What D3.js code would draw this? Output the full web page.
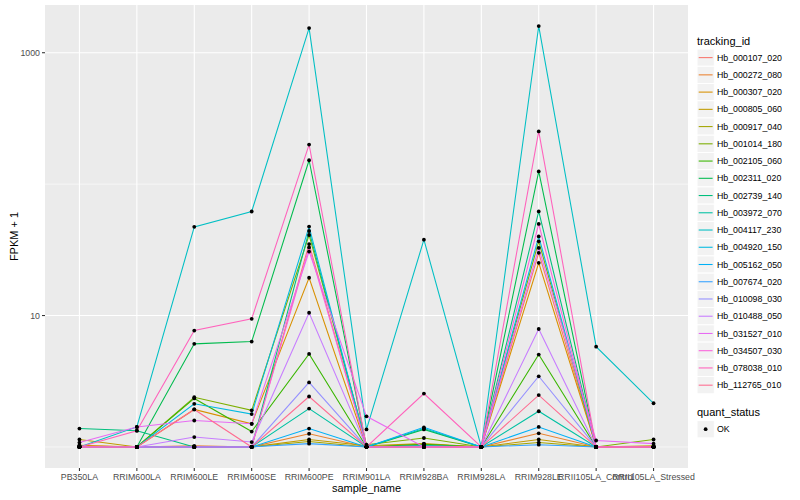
<!DOCTYPE html>
<html>
<head>
<meta charset="utf-8">
<script src="https://cdn.jsdelivr.net/npm/d3@7"></script>
<style>
body{margin:0;background:#fff;}
text{font-family:"Liberation Sans",Arial,Helvetica,sans-serif;}
</style>
</head>
<body>
<svg id="chart" width="800" height="500"></svg>
<script>

// samples along the x axis
var samples = ["PB350LA","RRIM600LA","RRIM600LE","RRIM600SE","RRIM600PE","RRIM901LA",
	"RRIM928BA","RRIM928LA","RRIM928LE","RRII105LA_Control","RRII105LA_Stressed"];

var trackingIds = ["Hb_000107_020","Hb_000272_080","Hb_000307_020","Hb_000805_060","Hb_000917_040",
	"Hb_001014_180","Hb_002105_060","Hb_002311_020","Hb_002739_140","Hb_003972_070",
	"Hb_004117_230","Hb_004920_150","Hb_005162_050","Hb_007674_020","Hb_010098_030",
	"Hb_010488_050","Hb_031527_010","Hb_034507_030","Hb_078038_010","Hb_112765_010"];

// ggplot hue palette for 20 groups
var colors = ["#F8766D","#EA8331","#D89000","#C09B00","#A3A500","#7CAE00","#39B600","#00BB4E",
	"#00BF7D","#00C1A3","#00BFC4","#00BAE0","#00B0F6","#35A2FF","#9590FF","#C77CFF",
	"#E76BF3","#FA62DB","#FF62BC","#FF6C91"];

// FPKM + 1, one row per tracking_id, one column per sample
var fpkm = [
	[1.02, 1.00, 1.00, 1.00,   35, 1.00, 1.02, 1.00,   30, 1.00, 1.00], // Hb_000107_020
	[1.00, 1.00, 1.02, 1.00, 1.26, 1.00, 1.03, 1.00, 1.27, 1.00, 1.00], // Hb_000272_080
	[1.03, 1.00, 1.93, 1.50, 19.4, 1.00, 1.05, 1.00, 25.2, 1.00, 1.00], // Hb_000307_020
	[1.14, 1.00, 1.00, 1.00, 1.14, 1.02, 1.06, 1.00, 1.14, 1.00, 1.02], // Hb_000805_060
	[1.00, 1.00, 1.00, 1.00, 1.10, 1.00, 1.00, 1.00, 1.08, 1.00, 1.00], // Hb_000917_040
	[1.00, 1.00, 2.39, 1.90,   41, 1.04, 1.17, 1.00, 36.7, 1.00, 1.14], // Hb_001014_180
	[1.00, 1.00, 2.34, 1.31,  5.1, 1.00, 1.05, 1.00, 5.05, 1.00, 1.00], // Hb_002105_060
	[1.00, 1.00, 6.09, 6.34,  152, 1.00, 1.36, 1.00,  125, 1.00, 1.00], // Hb_002311_020
	[1.38, 1.33, 1.00, 1.00,   44, 1.00, 1.02, 1.00,   62, 1.00, 1.00], // Hb_002739_140
	[1.00, 1.00, 1.00, 1.00, 1.96, 1.00, 1.38, 1.00, 1.87, 1.00, 1.00], // Hb_003972_070
	[1.00, 1.42, 47.3, 61.9, 1540, 1.36, 37.8, 1.00, 1596, 5.80, 2.15], // Hb_004117_230
	[1.00, 1.00, 2.13, 1.78, 47.5, 1.00, 1.02, 1.00,   40, 1.00, 1.00], // Hb_004920_150
	[1.00, 1.00, 1.00, 1.00, 1.38, 1.00, 1.41, 1.00, 1.42, 1.00, 1.00], // Hb_005162_050
	[1.00, 1.00, 1.00, 1.00, 1.06, 1.00, 1.00, 1.00, 1.04, 1.00, 1.00], // Hb_007674_020
	[1.00, 1.00, 1.00, 1.00, 3.10, 1.00, 1.00, 1.00, 3.45, 1.00, 1.00], // Hb_010098_030
	[1.00, 1.00, 1.19, 1.09, 10.5, 1.00, 1.00, 1.00, 7.90, 1.00, 1.00], // Hb_010488_050
	[1.08, 1.42, 1.59, 1.50, 30.7, 1.71, 1.00, 1.00, 32.7, 1.12, 1.06], // Hb_031527_010
	[1.00, 1.00, 1.00, 1.00,   33, 1.00, 1.00, 1.00, 49.8, 1.00, 1.00], // Hb_034507_030
	[1.00, 1.33, 7.69, 9.44,  200, 1.00, 2.55, 1.00,  252, 1.00, 1.00], // Hb_078038_010
	[1.00, 1.00, 1.93, 1.00, 2.42, 1.00, 1.00, 1.00, 2.48, 1.00, 1.00]  // Hb_112765_010
];

var yMajor = [10, 1000];
var yMinor = [1, 100];
var quantStatus = ["OK"];

var svg = d3.select("#chart");
var panel = {left:45, right:688, top:5, bottom:468};

var x = d3.scalePoint().domain(samples).range([panel.left, panel.right]).padding(0.6);

// log scale with ggplot's 5% expansion done in log space
var all = d3.merge(fpkm);
var lo = Math.log10(d3.min(all)), hi = Math.log10(d3.max(all));
var pad = (hi - lo) * 0.05;
var y = d3.scaleLog()
	.domain([Math.pow(10, lo - pad), Math.pow(10, hi + pad)])
	.range([panel.bottom, panel.top]);

svg.append("rect")
	.attr("x", panel.left).attr("y", panel.top)
	.attr("width", panel.right - panel.left).attr("height", panel.bottom - panel.top)
	.attr("fill", "#EBEBEB");

var grid = svg.append("g").attr("stroke", "#fff").attr("fill", "none");
grid.selectAll(".minor").data(yMinor).enter().append("line")
	.attr("x1", panel.left).attr("x2", panel.right)
	.attr("y1", function(d){return y(d)}).attr("y2", function(d){return y(d)})
	.attr("stroke-width", 0.55);
grid.selectAll(".major").data(yMajor).enter().append("line")
	.attr("x1", panel.left).attr("x2", panel.right)
	.attr("y1", function(d){return y(d)}).attr("y2", function(d){return y(d)})
	.attr("stroke-width", 1.1);
grid.selectAll(".xg").data(samples).enter().append("line")
	.attr("x1", function(d){return x(d)}).attr("x2", function(d){return x(d)})
	.attr("y1", panel.top).attr("y2", panel.bottom)
	.attr("stroke-width", 1.1);

// series lines
var line = d3.line()
	.x(function(d,i){return x(samples[i])})
	.y(function(d){return y(d)});

svg.append("g").selectAll("path").data(fpkm).enter().append("path")
	.attr("d", line)
	.attr("fill", "none")
	.attr("stroke", function(d,i){return colors[i]})
	.attr("stroke-width", 1.07);

// points
var pts = [];
fpkm.forEach(function(row){
	row.forEach(function(v,j){ pts.push({s:samples[j], v:v}); });
});
svg.append("g").selectAll("circle").data(pts).enter().append("circle")
	.attr("cx", function(d){return x(d.s)})
	.attr("cy", function(d){return y(d.v)})
	.attr("r", 1.9)
	.attr("fill", "#000");

// axes
var yAxis = svg.append("g");
yAxis.selectAll("line").data(yMajor).enter().append("line")
	.attr("x1", panel.left - 3).attr("x2", panel.left)
	.attr("y1", function(d){return y(d)}).attr("y2", function(d){return y(d)})
	.attr("stroke", "#333").attr("stroke-width", 1.07);
yAxis.selectAll("text").data(yMajor).enter().append("text")
	.attr("x", panel.left - 5)
	.attr("y", function(d){return y(d) + 3.1})
	.attr("text-anchor", "end")
	.attr("font-size", 8.8)
	.attr("fill", "#4D4D4D")
	.text(function(d){return d});

var xAxis = svg.append("g");
xAxis.selectAll("line").data(samples).enter().append("line")
	.attr("x1", function(d){return x(d)}).attr("x2", function(d){return x(d)})
	.attr("y1", panel.bottom).attr("y2", panel.bottom + 3)
	.attr("stroke", "#333").attr("stroke-width", 1.07);
xAxis.selectAll("text").data(samples).enter().append("text")
	.attr("x", function(d){return x(d)})
	.attr("y", panel.bottom + 12.3)
	.attr("text-anchor", "middle")
	.attr("font-size", 8.8)
	.attr("fill", "#4D4D4D")
	.text(function(d){return d});

svg.append("text")
	.attr("x", (panel.left + panel.right) / 2)
	.attr("y", 492)
	.attr("text-anchor", "middle")
	.attr("font-size", 11)
	.attr("fill", "#000")
	.text("sample_name");

svg.append("text")
	.attr("transform", "translate(18," + ((panel.top + panel.bottom) / 2) + ") rotate(-90)")
	.attr("text-anchor", "middle")
	.attr("font-size", 11)
	.attr("fill", "#000")
	.text("FPKM + 1");

// legend: tracking_id
var legX = 697, keyW = 17.3, keyH = 17.24, firstKey = 49;
var leg = svg.append("g");
leg.append("text")
	.attr("x", legX).attr("y", 44.5)
	.attr("font-size", 11)
	.text("tracking_id");

var keys = leg.selectAll(".key").data(trackingIds).enter().append("g")
	.attr("transform", function(d,i){return "translate(" + legX + "," + (firstKey + i * keyH) + ")"});
keys.append("rect")
	.attr("width", keyW).attr("height", keyH)
	.attr("fill", "#F2F2F2").attr("stroke", "#fff").attr("stroke-width", 1);
keys.append("line")
	.attr("x1", 1.7).attr("x2", keyW - 1.7)
	.attr("y1", keyH / 2).attr("y2", keyH / 2)
	.attr("stroke", function(d,i){return colors[i]})
	.attr("stroke-width", 1.07);
keys.append("text")
	.attr("x", keyW + 2.6).attr("y", keyH / 2 + 3.1)
	.attr("font-size", 8.8)
	.text(function(d){return d});

// legend: quant_status
leg.append("text")
	.attr("x", legX).attr("y", 416.3)
	.attr("font-size", 11)
	.text("quant_status");
var qk = leg.selectAll(".qkey").data(quantStatus).enter().append("g")
	.attr("transform", function(d,i){return "translate(" + legX + "," + (420.6 + i * keyH) + ")"});
qk.append("rect")
	.attr("width", keyW).attr("height", keyH)
	.attr("fill", "#F2F2F2").attr("stroke", "#fff").attr("stroke-width", 1);
qk.append("circle")
	.attr("cx", keyW / 2).attr("cy", keyH / 2).attr("r", 1.9)
	.attr("fill", "#000");
qk.append("text")
	.attr("x", keyW + 2.6).attr("y", keyH / 2 + 3.1)
	.attr("font-size", 8.8)
	.text(function(d){return d});

</script>
</body>
</html>
